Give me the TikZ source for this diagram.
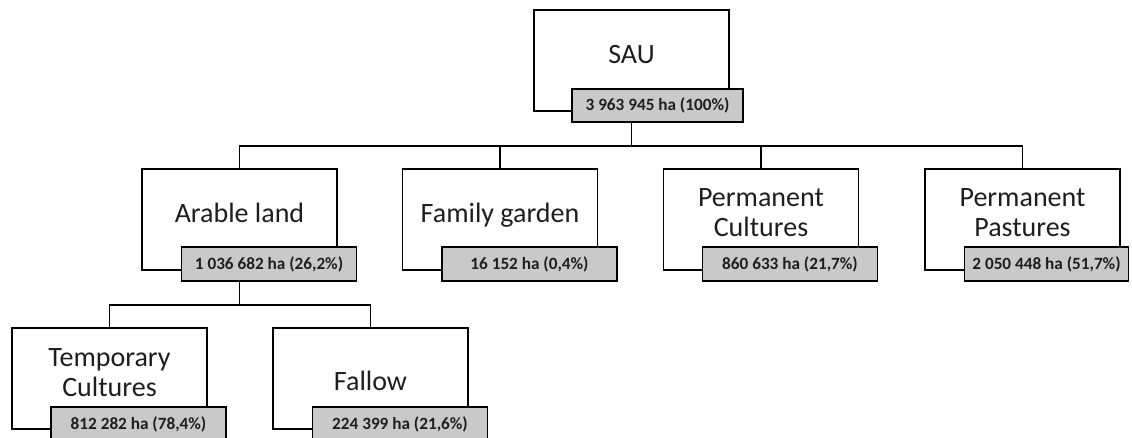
\documentclass[tikz,border=0pt]{standalone}
\usepackage{fontspec}
\setmainfont{Carlito}
\definecolor{labgray}{RGB}{201,201,201}
\definecolor{txt}{RGB}{30,30,30}
\begin{document}
\begin{tikzpicture}[x=0.75pt,y=-0.75pt,
  catbox/.style={draw=black,line width=1.1pt,fill=white,inner sep=0pt,
    minimum width=146.25pt,minimum height=75.75pt},
  labbox/.style={draw=black,line width=1.2pt,fill=labgray,inner sep=0pt,text=txt,
    minimum width=131.25pt,minimum height=25.5pt,
    font=\fontsize{12.9}{15}\selectfont\bfseries},
  cattext/.style={font=\fontsize{21}{22.5}\selectfont,inner sep=0pt,align=center,text=txt},
  conn/.style={line width=1.1pt,draw=black}]
\clip (0,0) rectangle (1132,437);
\fill[white] (0,0) rectangle (1132,437);
% boxes
\node[catbox] (sau) at (631.5,60.5) {};
\node[catbox] (arable) at (239.5,219.5) {};
\node[catbox] (family) at (500,219.5) {};
\node[catbox] (pc) at (761,219.5) {};
\node[catbox] (pp) at (1022.5,219.5) {};
\node[catbox] (temp) at (109.5,378.5) {};
\node[catbox] (fallow) at (370.5,378.5) {};
% label boxes
\node[labbox,minimum width=128.25pt,minimum height=24.75pt] (saul) at (657.5,105.5) {3 963 945 ha (100\%)};
\node[labbox] (arablel) at (269,264) {1 036 682 ha (26,2\%)};
\node[labbox] (familyl) at (529.5,264) {16 152 ha (0,4\%)};
\node[labbox] (pcl) at (790,264) {860 633 ha (21,7\%)};
\node[labbox,minimum width=123pt] (ppl) at (1046.5,264) {2 050 448 ha (51,7\%)};
\node[labbox] (templ) at (138.5,424) {812 282 ha (78,4\%)};
\node[labbox] (fallowl) at (400,424) {224 399 ha (21,6\%)};
% texts
\node[cattext,anchor=base] (saut) at (631.5,63) {SAU};
\node[cattext,anchor=base] (arablet) at (239.5,222) {Arable land};
\node[cattext,anchor=base] (familyt) at (500,222) {Family garden};
\node[cattext] (pct) at (761,213) {Permanent\\Cultures};
\node[cattext] (ppt) at (1022.5,213) {Permanent\\Pastures};
\node[cattext] (tempt) at (109.5,373) {Temporary\\Cultures};
\node[cattext,anchor=base] (fallowt) at (370.5,390) {Fallow};
% connectors
\coordinate (bus1) at (631.5,146);
\coordinate (bus2) at (239.5,305);
\draw[conn] (sau.center |- saul.south) -- (bus1);
\draw[conn] (arable.north) |- (bus1) -| (pp.north);
\draw[conn] (family.north) -- (family.north |- bus1);
\draw[conn] (pc.north) -- (pc.north |- bus1);
\draw[conn] (arable.center |- arablel.south) -- (bus2);
\draw[conn] (temp.north) |- (bus2) -| (fallow.north);
\end{tikzpicture}
\end{document}
